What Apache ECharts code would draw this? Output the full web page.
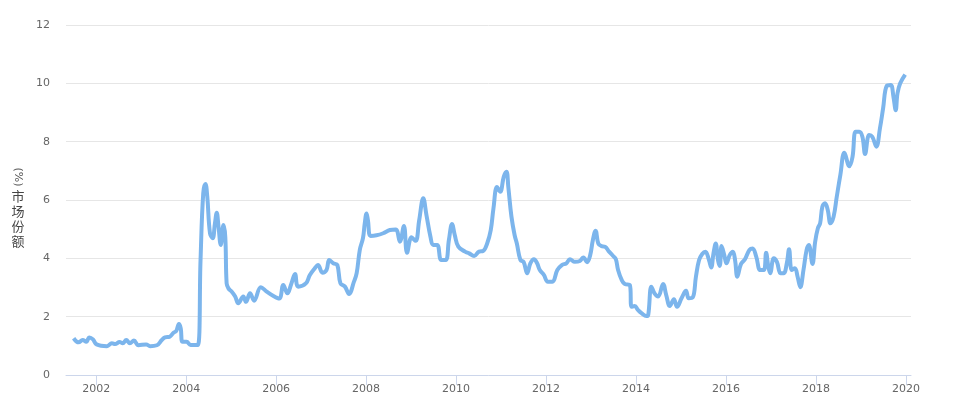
<!DOCTYPE html>
<html>
<head>
<meta charset="utf-8">
<script src="https://cdn.jsdelivr.net/npm/echarts@6/dist/echarts.min.js"></script>
<style>html,body{margin:0;padding:0;background:#fff;}#c{width:957px;height:405px;}</style>
</head>
<body>
<div id="c"></div>
<script>
// decimal year of each reading
var dates = [
2001.50,2001.61,2001.70,2001.78,2001.85,2001.93,2002.01,2002.24,2002.35,2002.42,2002.52,2002.59,2002.67,2002.75,2002.84,2002.94,
2003.11,2003.20,2003.35,2003.46,2003.53,2003.63,2003.72,2003.78,2003.84,2003.88,2003.92,2004.01,2004.10,2004.26,2004.32,2004.38,
2004.43,2004.47,2004.53,2004.59,2004.64,2004.68,2004.72,2004.77,2004.83,2004.87,2004.90,2004.94,2005.01,2005.09,2005.16,2005.27,
2005.33,2005.42,2005.51,2005.66,2005.79,2005.94,2006.07,2006.16,2006.25,2006.34,2006.42,2006.49,2006.66,2006.75,2006.86,2006.93,
2007.03,2007.12,2007.18,2007.27,2007.36,2007.43,2007.53,2007.62,2007.73,2007.79,2007.86,2007.93,2007.97,2008.01,2008.04,2008.10,
2008.23,2008.38,2008.53,2008.66,2008.75,2008.84,2008.91,2009.01,2009.10,2009.18,2009.27,2009.34,2009.43,2009.49,2009.58,2009.67,
2009.77,2009.84,2009.91,2009.97,2010.05,2010.20,2010.29,2010.40,2010.51,2010.60,2010.69,2010.77,2010.83,2010.91,2010.98,2011.06,
2011.12,2011.16,2011.23,2011.30,2011.35,2011.43,2011.50,2011.58,2011.65,2011.73,2011.80,2011.86,2011.95,2012.04,2012.14,2012.25,
2012.35,2012.45,2012.53,2012.64,2012.75,2012.83,2012.91,2012.98,2013.04,2013.10,2013.16,2013.23,2013.31,2013.40,2013.49,2013.55,
2013.60,2013.68,2013.75,2013.86,2013.90,2013.97,2014.04,2014.12,2014.23,2014.27,2014.34,2014.41,2014.49,2014.60,2014.67,2014.75,
2014.84,2014.91,2015.01,2015.11,2015.17,2015.26,2015.33,2015.40,2015.47,2015.54,2015.62,2015.67,2015.72,2015.77,2015.82,2015.86,
2015.90,2015.96,2016.01,2016.08,2016.15,2016.20,2016.25,2016.33,2016.42,2016.52,2016.59,2016.67,2016.76,2016.84,2016.89,2016.94,
2016.98,2017.06,2017.13,2017.21,2017.28,2017.35,2017.40,2017.46,2017.53,2017.59,2017.65,2017.72,2017.79,2017.84,2017.92,2017.98,
2018.04,2018.09,2018.14,2018.20,2018.26,2018.32,2018.39,2018.46,2018.54,2018.63,2018.74,2018.81,2018.88,2018.96,2019.03,2019.09,
2019.18,2019.25,2019.34,2019.42,2019.49,2019.57,2019.66,2019.72,2019.77,2019.81,2019.87,2019.98
];
// market share (%)
var shares = [
1.26,1.12,1.20,1.14,1.29,1.22,1.05,0.99,1.09,1.06,1.13,1.09,1.20,1.09,1.18,1.02,
1.05,0.99,1.02,1.20,1.29,1.31,1.45,1.51,1.75,1.60,1.14,1.14,1.03,1.03,3.94,6.23,
6.55,6.11,4.86,4.69,5.20,5.56,5.08,4.46,5.14,4.74,3.14,2.97,2.86,2.69,2.46,2.69,
2.51,2.80,2.55,3.01,2.86,2.71,2.62,3.09,2.80,3.14,3.46,3.03,3.14,3.43,3.66,3.77,
3.51,3.60,3.94,3.83,3.77,3.14,3.03,2.78,3.20,3.49,4.29,4.69,5.20,5.54,5.31,4.77,
4.79,4.86,4.97,4.99,4.57,5.11,4.19,4.72,4.60,5.31,6.06,5.49,4.74,4.46,4.46,3.94,
3.94,4.63,5.18,4.80,4.40,4.23,4.17,4.08,4.23,4.25,4.51,4.97,5.71,6.45,6.28,6.80,
6.97,6.45,5.43,4.80,4.51,3.94,3.88,3.49,3.83,3.97,3.83,3.60,3.43,3.20,3.20,3.60,
3.77,3.83,3.97,3.88,3.91,4.03,3.87,4.11,4.63,4.95,4.51,4.42,4.40,4.23,4.08,3.97,
3.60,3.26,3.12,3.09,2.34,2.37,2.23,2.12,2.02,2.06,3.03,2.80,2.69,3.12,2.74,2.37,
2.60,2.34,2.63,2.89,2.63,2.66,3.37,3.94,4.15,4.23,3.94,3.69,4.17,4.51,3.94,3.74,
4.42,4.11,3.83,4.11,4.23,3.94,3.37,3.80,3.97,4.29,4.34,4.06,3.60,3.60,4.19,3.71,
3.49,4.00,3.88,3.49,3.49,3.83,4.31,3.60,3.66,3.37,3.01,3.60,4.29,4.46,3.81,4.57,
5.03,5.20,5.77,5.89,5.66,5.20,5.43,6.11,6.86,7.62,7.16,7.48,8.34,8.34,8.17,7.58,
8.23,8.17,7.83,8.46,9.14,9.91,9.94,9.54,9.08,9.66,10.00,10.30
];
var yearTicks = [2002,2004,2006,2008,2010,2012,2014,2016,2018,2020];
var yTitle = '市场份额';
var yUnit = '(%)';

var data = dates.map(function(d,i){ return [d, shares[i]]; });
var chart = echarts.init(document.getElementById('c'), null, {renderer:'canvas'});
var font = 'DejaVu Sans, Lucida Grande, sans-serif';
chart.setOption({
  animation:false,
  backgroundColor:'#ffffff',
  grid:{left:66,right:46,top:25,bottom:30,containLabel:false},
  xAxis:{
    type:'value', min:2001.33, max:2020.11,
    axisLine:{show:true,lineStyle:{color:'#ccd6eb',width:1}},
    axisTick:{show:true,customValues:yearTicks,length:10,lineStyle:{color:'#ccd6eb'}},
    axisLabel:{customValues:yearTicks,color:'#666666',fontSize:11,fontFamily:font,margin:9,
      formatter:function(v){return String(Math.round(v));}},
    splitLine:{show:false}
  },
  yAxis:{
    type:'value', min:0, max:12, interval:2,
    axisLine:{show:false}, axisTick:{show:false},
    axisLabel:{color:'#666666',fontSize:11,fontFamily:font,margin:16},
    splitLine:{lineStyle:{color:'#e6e6e6',width:1}}
  },
  graphic:[
    {type:'text',x:18,y:177,rotation:-Math.PI/2,
      style:{text:yUnit,fill:'#555555',font:'11px '+font,textAlign:'center',textVerticalAlign:'middle'}},
    {type:'text',x:18,y:189,
      style:{text:yTitle.split('').join('\n'),fill:'#444444',font:'13px "Noto Sans CJK SC", sans-serif',
        textAlign:'center',textVerticalAlign:'top',lineHeight:15}}
  ],
  series:[{
    type:'line', data:data, smooth:0.4, showSymbol:false, symbol:'none',
    lineStyle:{color:'#7cb5ec',width:4},
    itemStyle:{color:'#7cb5ec'}
  }]
});
</script>
</body>
</html>
